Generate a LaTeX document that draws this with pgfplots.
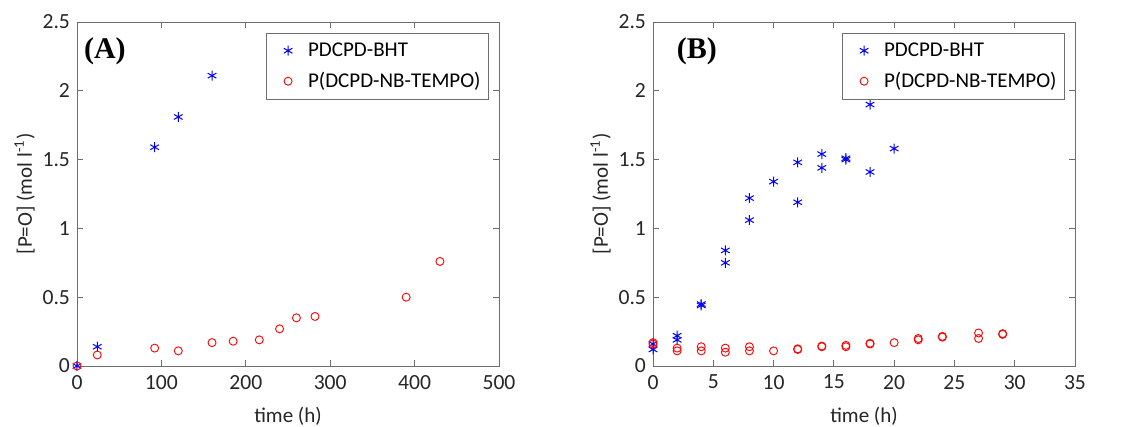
\documentclass[border=0pt]{standalone}
\usepackage{pgfplots}
\pgfplotsset{compat=1.18}
\usepackage{fontspec}
\setmainfont{Carlito}
\newfontfamily\serifbold{Liberation Serif}
\definecolor{axgray}{RGB}{110,110,110}

\pgfplotsset{
  matlab/.style={
    scale only axis,
    width=211pt, height=172pt,
    ymin=0, ymax=2.5,
    ytick={0,0.5,...,2.5},
    axis line style={axgray},
    tick style={axgray, thin},
    major tick length=3pt,
    tick align=inside,
    /pgf/number format/assume math mode=true,
    ticklabel style={font=\fontsize{10.8}{13}\selectfont, text=black!85},
    xticklabel style={yshift=-1pt},
    label style={font=\fontsize{10.5}{13}\selectfont, text=black!85},
    xlabel={time (h)},
    ylabel={[P=O] (mol l\textsuperscript{-1})},
    xlabel style={yshift=-2pt},
    ylabel style={yshift=-3pt},
    legend cell align=left,
    legend style={at={(rel axis cs:1,1)}, anchor=north east,
      xshift=-5pt, yshift=-5.5pt, draw=axgray, font=\fontsize{10.5}{13}\selectfont,
      inner xsep=2pt, inner ysep=2.5pt, row sep=2.5pt},
    legend image code/.code={\path[draw=none,fill=none] (0pt,0) -- (17pt,0);
      \draw[#1] plot coordinates {(9pt,0)};},
  },
  bht/.style={only marks, blue, mark=asterisk, mark size=2.5pt, mark options={line width=0.5pt}},
  tempo/.style={only marks, red, mark=o, mark size=2pt, mark options={line width=0.45pt}},
}

\begin{document}
\begin{tikzpicture}
\useasboundingbox (-38.5pt,-30.5pt) rectangle (527.5pt,183pt);
\begin{axis}[matlab, xmin=0, xmax=500, xtick={0,100,...,500}]
\addplot[bht] coordinates {(0,0) (24,0.14) (92,1.59) (120,1.81) (160,2.11)};
\addplot[tempo] coordinates {(0,0) (24,0.08) (92,0.13) (120,0.11) (160,0.17) (185,0.18) (216,0.19) (240,0.27) (260,0.35) (282,0.36) (390,0.50) (430,0.76)};
\legend{PDCPD-BHT, P(DCPD-NB-TEMPO)}
\node[anchor=north west, font=\serifbold\bfseries\fontsize{15}{17}\selectfont] at (rel axis cs:0.0,0.975) {(A)};
\end{axis}
\begin{axis}[matlab, xshift=288pt, xmin=0, xmax=35, xtick={0,5,...,35}]
\addplot[bht] coordinates {(0,0.12) (0,0.16) (2,0.19) (2,0.22) (4,0.44) (4,0.45) (6,0.84) (6,0.75) (8,1.22) (8,1.06) (10,1.34) (12,1.48) (12,1.19) (14,1.54) (14,1.44) (16,1.50) (16,1.51) (18,1.90) (18,1.41) (20,1.58)};
\addplot[tempo] coordinates {(0,0.16) (0,0.17) (2,0.13) (2,0.11) (4,0.14) (4,0.11) (6,0.13) (6,0.10) (8,0.14) (8,0.11) (10,0.11) (12,0.12) (12,0.125) (14,0.14) (14,0.145) (16,0.15) (16,0.14) (18,0.16) (18,0.165) (20,0.17) (22,0.19) (22,0.20) (24,0.21) (24,0.215) (27,0.24) (27,0.20) (29,0.23) (29,0.235)};
\legend{PDCPD-BHT, P(DCPD-NB-TEMPO)}
\node[anchor=north west, font=\serifbold\bfseries\fontsize{15}{17}\selectfont] at (rel axis cs:0.04,0.975) {(B)};
\end{axis}
\end{tikzpicture}
\end{document}
